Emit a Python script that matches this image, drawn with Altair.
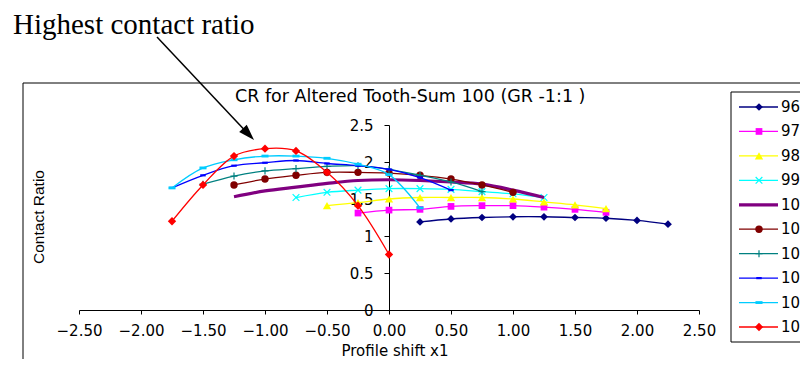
import altair as alt
import pandas as pd

# ---------------- data ----------------
series_names = ["96", "97", "98", "99", "100", "101", "102", "103", "104", "105"]
series_colors = ["#000080", "#FF00FF", "#FFFF00", "#00FFFF", "#800080",
                 "#800000", "#008080", "#0000FF", "#00CCFF", "#FF0000"]

x96 = [0.25, 0.5, 0.75, 1.0, 1.25, 1.5, 1.75, 2.0, 2.25]
y96 = [1.19, 1.23, 1.25, 1.26, 1.26, 1.25, 1.24, 1.21, 1.16]
x97 = [-0.25, 0.0, 0.25, 0.5, 0.75, 1.0, 1.25, 1.5, 1.75]
y97 = [1.31, 1.35, 1.36, 1.40, 1.41, 1.41, 1.39, 1.36, 1.32]
x98 = [-0.5, -0.25, 0.0, 0.25, 0.5, 0.75, 1.0, 1.25, 1.5, 1.75]
y98 = [1.41, 1.45, 1.50, 1.52, 1.52, 1.52, 1.50, 1.46, 1.42, 1.37]
x99 = [-0.75, -0.5, -0.25, 0.0, 0.25, 0.5, 0.75, 1.0, 1.25]
y99 = [1.52, 1.59, 1.62, 1.64, 1.64, 1.63, 1.60, 1.57, 1.52]
x100 = [-1.25, -1.0, -0.75, -0.5, -0.25, 0.0, 0.25, 0.5, 0.75, 1.0, 1.25]
y100 = [1.53, 1.61, 1.66, 1.71, 1.75, 1.76, 1.75, 1.73, 1.70, 1.62, 1.52]
x101 = [-1.25, -1.0, -0.75, -0.5, -0.25, 0.0, 0.25, 0.5, 0.75, 1.0]
y101 = [1.69, 1.77, 1.82, 1.86, 1.86, 1.85, 1.82, 1.77, 1.69, 1.59]
x102 = [-1.5, -1.25, -1.0, -0.75, -0.5, -0.25, 0.0, 0.25, 0.5, 0.75]
y102 = [1.70, 1.81, 1.88, 1.91, 1.94, 1.95, 1.90, 1.82, 1.73, 1.60]
x103 = [-1.75, -1.5, -1.25, -1.0, -0.75, -0.5, -0.25, 0.0, 0.25, 0.5]
y103 = [1.65, 1.82, 1.95, 1.99, 2.02, 1.98, 1.95, 1.90, 1.79, 1.62]
x104 = [-1.75, -1.5, -1.25, -1.0, -0.75, -0.5, -0.25, 0.0, 0.25]
y104 = [1.65, 1.92, 2.03, 2.08, 2.08, 2.05, 1.97, 1.83, 1.38]
x105 = [-1.75, -1.5, -1.25, -1.0, -0.75, -0.5, -0.25, 0.0]
y105 = [1.20, 1.69, 2.08, 2.18, 2.15, 1.86, 1.41, 0.75]

x_ticks = [-2.5, -2.0, -1.5, -1.0, -0.5, 0.0, 0.5, 1.0, 1.5, 2.0, 2.5]
y_ticks = [0, 0.5, 1.0, 1.5, 2.0, 2.5]

chart_title = "CR for Altered Tooth-Sum 100 (GR -1:1 )"
x_title = "Profile shift x1"
y_title = "Contact Ratio"
note_text = "Highest contact ratio"

# ---------------- styles ----------------
dash = "M-1,-0.4L1,-0.4L1,0.4L-1,0.4Z"
xmark = "M-1,-1L1,1M-1,1L1,-1"
plus = "M-1,0L1,0M0,-1L0,1"
marker_shape = {"96": "diamond", "97": "square", "98": "triangle-up", "99": xmark,
                "100": None, "101": "circle", "102": plus, "103": dash,
                "104": dash, "105": "diamond"}
marker_size = {"96": 60, "97": 45, "98": 70, "99": 45, "100": 0, "101": 55,
               "102": 50, "103": 30, "104": 50, "105": 70}
marker_filled = {"99": False, "102": False}
line_width = {"100": 3.2}

all_x = [x96, x97, x98, x99, x100, x101, x102, x103, x104, x105]
all_y = [y96, y97, y98, y99, y100, y101, y102, y103, y104, y105]
rows = []
for name, xs, ys in zip(series_names, all_x, all_y):
    for a, b in zip(xs, ys):
        rows.append({"series": name, "x": a, "y": b})
df = pd.DataFrame(rows)
leg_df = pd.DataFrame({"series": series_names, "idx": list(range(len(series_names)))})
one = pd.DataFrame({"a": [0]})

FONT = "DejaVu Sans"

X = alt.X("x:Q", scale=alt.Scale(domain=[-2.5, 2.5], nice=False, zero=False),
          axis=alt.Axis(values=x_ticks, format=".2f", title=None, labelFlush=False,
                        tickSize=4, labelPadding=9, grid=False))
Y = alt.Y("y:Q", scale=alt.Scale(domain=[0, 2.5], nice=False),
          axis=alt.Axis(values=y_ticks, format="~g", title=None, offset=-310,
                        tickSize=5, labelPadding=11, grid=False))
LY = alt.Y("idx:Q", scale=alt.Scale(domain=[0, 9], range=[-18, 202], nice=False, zero=False),
           axis=None)

main_layers = []
legend_layers = []
for name, col in zip(series_names, series_colors):
    lw = line_width.get(name, 1.3)
    base = alt.Chart(df).transform_filter(alt.datum.series == name)
    main_layers.append(base.mark_line(color=col, strokeWidth=lw, interpolate="catmull-rom")
                       .encode(x=X, y=Y, order="x:Q"))
    lbase = alt.Chart(leg_df).transform_filter(alt.datum.series == name)
    legend_layers.append(lbase.mark_rule(color=col, strokeWidth=lw)
                         .encode(x=alt.value(660), x2=alt.value(699), y=LY))
    shp = marker_shape[name]
    if shp is not None:
        filled = marker_filled.get(name, True)
        pm = dict(shape=shp, size=marker_size[name], filled=filled, color=col, opacity=1)
        if not filled:
            pm["strokeWidth"] = 1.2
        main_layers.append(base.mark_point(**pm).encode(x=X, y=Y))
        legend_layers.append(lbase.mark_point(**pm).encode(x=alt.value(680), y=LY))

legend_layers.append(alt.Chart(leg_df).mark_text(align="left", baseline="middle", font=FONT,
                                                 fontSize=15, color="black")
                     .encode(x=alt.value(702), y=LY, text="series:N"))

ann = alt.Chart(one)
annotations = [
    # outer chart-area border
    ann.mark_rect(fillOpacity=0, stroke="black", strokeWidth=1)
       .encode(x=alt.value(-56), x2=alt.value(780), y=alt.value(-42), y2=alt.value(300)),
    # legend box
    ann.mark_rect(fillOpacity=0, stroke="black", strokeWidth=1)
       .encode(x=alt.value(652), x2=alt.value(760), y=alt.value(-33), y2=alt.value(217)),
    ann.mark_text(text=chart_title, align="left", baseline="middle", font=FONT,
                  fontSize=17.5, color="black")
       .encode(x=alt.value(156), y=alt.value(-28)),
    ann.mark_text(text=y_title, angle=270, align="center", baseline="middle",
                  font="Liberation Sans", fontSize=15.5, color="black")
       .encode(x=alt.value(-40), y=alt.value(92)),
    ann.mark_text(text=x_title, align="center", baseline="middle", font=FONT,
                  fontSize=15, color="black")
       .encode(x=alt.value(316), y=alt.value(225.5)),
    ann.mark_text(text=note_text, align="left", baseline="alphabetic",
                  font="Liberation Serif", fontSize=29, color="black")
       .encode(x=alt.value(-66), y=alt.value(-91)),
    ann.mark_rule(color="black", strokeWidth=1.5)
       .encode(x=alt.value(78), y=alt.value(-88), x2=alt.value(169.5), y2=alt.value(9.2)),
    ann.mark_point(shape="M0,-1L0.65,1L-0.65,1Z", filled=True, color="black", size=256,
                   angle=136.4, opacity=1)
       .encode(x=alt.value(169.5), y=alt.value(9.2)),
]

main = alt.layer(*main_layers)
legend = alt.layer(*legend_layers)

chart = (
    alt.layer(*annotations, main, legend)
    .resolve_scale(y="independent")
    .properties(width=620, height=185,
                padding={"left": 71, "top": 117, "right": 101, "bottom": 49},
                autosize=alt.AutoSizeParams(type="none"),
                background="white")
    .configure_view(stroke=None)
    .configure_axis(labelFont=FONT, labelFontSize=15, labelColor="black",
                    domainColor="black", tickColor="black", domainWidth=1, tickWidth=1)
)

chart.save("out.html", embed_options={"renderer": "svg", "actions": False})
